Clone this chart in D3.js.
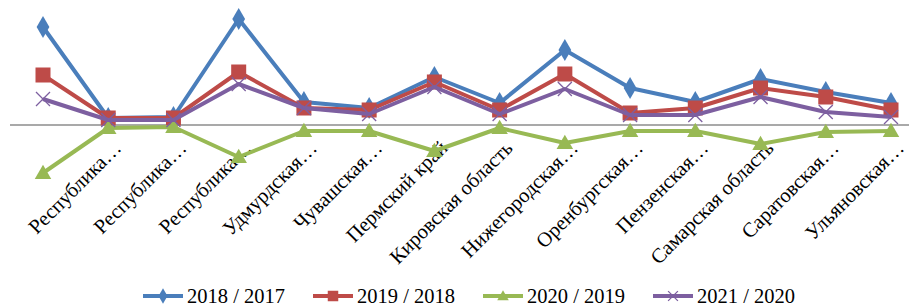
<!DOCTYPE html>
<html lang="ru">
<head>
    <meta charset="UTF-8">
    <title>Темпы роста по регионам</title>
    <script src="https://cdnjs.cloudflare.com/ajax/libs/d3/7.8.5/d3.min.js"></script>
    <style>
        body { margin: 0; background: #fff; }
        text { font-family: "Liberation Serif", "Times New Roman", serif; fill: #000; }
    </style>
</head>
<body>
    <div id="chart"></div>

    <script>
        // Categories (the first one has no visible label in the source)
        const regions = [
            "",
            "Республика…",
            "Республика…",
            "Республика…",
            "Удмурдская…",
            "Чувашская…",
            "Пермский край",
            "Кировская область",
            "Нижегородская…",
            "Оренбургская…",
            "Пензенская…",
            "Самарская область",
            "Саратовская…",
            "Ульяновская…"
        ];

        // Series values (arbitrary units, 0 = axis line)
        const v2018 = [98, 7, 8, 106, 23, 17, 48, 22, 75, 37, 23, 46, 33, 22];
        const v2019 = [50, 7, 7, 53, 17, 15, 43, 15, 51, 12, 17, 37, 28, 15];
        const v2020 = [-48, -3, -2, -32, -6, -6, -26, -3, -18, -6, -6, -19, -7, -6];
        const v2021 = [26, 5, 5, 41, 17, 11, 38, 11, 36, 10, 10, 28, 13, 8];

        const seriesNames = ["2018 / 2017", "2019 / 2018", "2020 / 2019", "2021 / 2020"];
        const seriesColors = ["#4a7ebb", "#be4b48", "#98b954", "#7d5fa0"];
        const seriesMarkers = ["diamond", "square", "triangle", "cross"];

        const width = 909;
        const height = 306;

        const series = seriesNames.map((name, i) => ({
            name: name,
            color: seriesColors[i],
            marker: seriesMarkers[i],
            values: [v2018, v2019, v2020, v2021][i]
        }));

        const svg = d3.select("#chart")
            .append("svg")
            .attr("width", width)
            .attr("height", height);

        const x = d3.scalePoint()
            .domain(d3.range(regions.length))
            .range([43, 891]);

        const y = d3.scaleLinear()
            .domain([-50, 110])
            .range([175, 15]);

        // horizontal axis line at zero
        const xAxis = d3.axisBottom(x).tickSize(0).tickFormat("");
        const axisG = svg.append("g")
            .attr("transform", `translate(0, ${y(0)})`)
            .call(xAxis);
        axisG.select(".domain")
            .attr("d", `M10,0H${width}`)
            .attr("stroke", "#8c8c8c")
            .attr("stroke-width", 1.5);

        // category labels, rotated
        svg.append("g")
            .selectAll("text")
            .data(regions)
            .enter().append("text")
            .attr("transform", (d, i) => `translate(${x(i) + 4}, ${y(0) + 14}) rotate(-45)`)
            .attr("text-anchor", "end")
            .attr("dy", "0.71em")
            .style("font-size", "20.5px")
            .text(d => d);

        const line = d3.line()
            .x((d, i) => x(i))
            .y(d => y(d));

        function drawMarker(g, type, color, size) {
            if (type === "diamond") {
                g.append("path")
                    .attr("d", d3.symbol(d3.symbolDiamond, size * size * 0.55)())
                    .attr("fill", color);
            } else if (type === "square") {
                g.append("rect")
                    .attr("x", -size / 2).attr("y", -size / 2)
                    .attr("width", size).attr("height", size)
                    .attr("fill", color);
            } else if (type === "triangle") {
                g.append("path")
                    .attr("d", `M0,${-size * 0.55}L${size * 0.55},${size * 0.4}L${-size * 0.55},${size * 0.4}Z`)
                    .attr("fill", color);
            } else {
                const h = size / 2;
                g.append("path")
                    .attr("d", `M${-h},${-h}L${h},${h}M${-h},${h}L${h},${-h}`)
                    .attr("stroke", color)
                    .attr("stroke-width", 1.3)
                    .attr("fill", "none");
            }
        }

        const markerSize = { diamond: 16, square: 15, triangle: 15, cross: 14 };

        series.forEach(s => {
            const g = svg.append("g");
            g.append("path")
                .datum(s.values)
                .attr("d", line)
                .attr("fill", "none")
                .attr("stroke", s.color)
                .attr("stroke-width", 4)
                .attr("stroke-linejoin", "round");

            s.values.forEach((v, i) => {
                const m = g.append("g").attr("transform", `translate(${x(i)}, ${y(v)})`);
                drawMarker(m, s.marker, s.color, markerSize[s.marker]);
            });
        });

        // legend
        const legend = svg.append("g").attr("transform", "translate(143, 296)");
        series.forEach((s, i) => {
            const item = legend.append("g").attr("transform", `translate(${i * 170}, 0)`);
            item.append("line")
                .attr("x1", 0).attr("x2", 40)
                .attr("stroke", s.color)
                .attr("stroke-width", 4);
            const m = item.append("g").attr("transform", "translate(20, 0)");
            drawMarker(m, s.marker, s.color, markerSize[s.marker] * 0.7);
            item.append("text")
                .attr("x", 44)
                .attr("dy", "0.35em")
                .style("font-size", "20.5px")
                .text(s.name);
        });
    </script>
</body>
</html>
